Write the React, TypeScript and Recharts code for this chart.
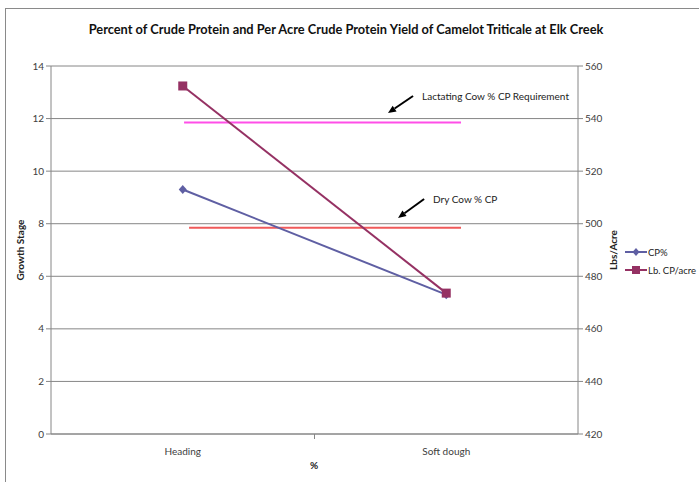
import React from 'react'
import {
  LineChart,
  Line,
  XAxis,
  YAxis,
  CartesianGrid,
  ReferenceLine,
} from 'recharts'

const categories = ['Heading', 'Soft dough']
const cpPercent = [9.3, 5.3]
const lbPerAcre = [552.4, 473.6]
const leftTicks = [0, 2, 4, 6, 8, 10, 12, 14]
const rightTicks = [420, 440, 460, 480, 500, 520, 540, 560]
const lactatingReq = 11.85
const dryReq = 7.85

const FONT = 'Lato, "Liberation Sans", sans-serif'
const AXIS = '#868686'
const CP_COLOR = '#5f5fa3'
const LB_COLOR = '#953163'

// numeric x so the category labels sit mid-band like Excel
const data = categories.map((name, i) => ({
  x: i + 0.5,
  name,
  cp: cpPercent[i],
  lb: lbPerAcre[i],
}))

function XTick(props: any) {
  const { x, y, payload } = props
  if (payload.value === 1) {
    return <line x1={x} x2={x} y1={y - 8} y2={y - 3} stroke={AXIS} />
  }
  const label = categories[Math.floor(payload.value)]
  return (
    <text x={x} y={y + 13} textAnchor="middle" fontSize={10} fill="#404040" fontFamily={FONT}>
      {label}
    </text>
  )
}

function Diamond(props: any) {
  const { cx, cy } = props
  if (cx == null || cy == null) return null
  return <path d={`M${cx},${cy - 4.5}L${cx + 4},${cy}L${cx},${cy + 4.5}L${cx - 4},${cy}Z`} fill={CP_COLOR} />
}

function Square(props: any) {
  const { cx, cy } = props
  if (cx == null || cy == null) return null
  return <rect x={cx - 4.5} y={cy - 4.5} width={9} height={9} fill={LB_COLOR} />
}

function arrowShape(text: string) {
  return (p: any) => {
    const { x1, y1, x2, y2 } = p
    const ang = Math.atan2(y2 - y1, x2 - x1)
    const len = 8
    const w = 3.5
    const bx = x2 - Math.cos(ang) * len
    const by = y2 - Math.sin(ang) * len
    const px = -Math.sin(ang) * w
    const py = Math.cos(ang) * w
    return (
      <g>
        <line x1={x1} y1={y1} x2={bx} y2={by} stroke="#000" strokeWidth={2} />
        <polygon points={`${x2},${y2} ${bx + px},${by + py} ${bx - px},${by - py}`} fill="#000" />
        <text x={x1 + 9} y={y1 + 4} fontSize={10} fill="#222" fontFamily={FONT}>
          {text}
        </text>
      </g>
    )
  }
}

function LegendBox() {
  const items = [
    { label: 'CP%', color: CP_COLOR, square: false },
    { label: 'Lb. CP/acre', color: LB_COLOR, square: true },
  ]
  return (
    <svg width={77} height={40}>
      {items.map((it, i) => {
        const y = 8 + i * 18
        return (
          <g key={it.label}>
            <line x1={3} x2={25} y1={y} y2={y} stroke={it.color} strokeWidth={2} />
            {it.square ? (
              <rect x={10} y={y - 4} width={8} height={8} fill={it.color} />
            ) : (
              <path d={`M14,${y - 4}L17.5,${y}L14,${y + 4}L10.5,${y}Z`} fill={it.color} />
            )}
            <text x={26} y={y + 3.5} fontSize={9.5} fill="#222" fontFamily={FONT}>
              {it.label}
            </text>
          </g>
        )
      })}
    </svg>
  )
}

export default function App() {
  return (
    <div style={{ position: 'absolute', left: 0, top: 0, width: 699, height: 482, overflow: 'hidden', background: '#fff' }}>
      <div style={{ position: 'absolute', left: 5, top: 8, width: 900, height: 700, border: '1px solid #8a8a8a' }} />
      <div
        style={{
          position: 'absolute',
          left: 0,
          top: 21,
          width: 692,
          textAlign: 'center',
          fontFamily: FONT,
          fontWeight: 700,
          fontSize: 12.8,
          color: '#111',
        }}
      >
        Percent of Crude Protein and Per Acre Crude Protein Yield of Camelot Triticale at Elk Creek
      </div>
      <div style={{ position: 'absolute', left: 0, top: 0 }}>
        <LineChart width={699} height={482} data={data} margin={{ top: 66, right: 81, left: 5, bottom: 18 }}>
          <CartesianGrid vertical={false} stroke={AXIS} yAxisId="left" />
          <XAxis
            dataKey="x"
            type="number"
            domain={[0, 2]}
            ticks={[0.5, 1, 1.5]}
            tick={<XTick />}
            tickLine={false}
            axisLine={{ stroke: AXIS }}
            height={30}
            label={{
              content: () => (
                <text x={314} y={469} textAnchor="middle" fontSize={10} fontWeight={700} fill="#222" fontFamily={FONT}>
                  %
                </text>
              ),
            }}
          />
          <YAxis
            yAxisId="left"
            domain={[0, 14]}
            ticks={leftTicks}
            width={46}
            tickSize={5}
            tickLine={{ stroke: AXIS }}
            axisLine={{ stroke: AXIS }}
            tick={{ fontSize: 10, fill: '#404040', fontFamily: FONT }}
            label={{
              content: () => (
                <text
                  x={24}
                  y={250}
                  transform="rotate(-90 24 250)"
                  textAnchor="middle"
                  fontSize={10}
                  fontWeight={700}
                  fill="#222"
                  fontFamily={FONT}
                >
                  Growth Stage
                </text>
              ),
            }}
          />
          <YAxis
            yAxisId="right"
            orientation="right"
            domain={[420, 560]}
            ticks={rightTicks}
            width={40}
            tickSize={5}
            tickLine={{ stroke: AXIS }}
            axisLine={{ stroke: AXIS }}
            tick={{ fontSize: 10, fill: '#404040', fontFamily: FONT }}
            label={{
              content: () => (
                <text
                  x={617}
                  y={250}
                  transform="rotate(-90 617 250)"
                  textAnchor="middle"
                  fontSize={10}
                  fontWeight={700}
                  fill="#222"
                  fontFamily={FONT}
                >
                  Lbs/Acre
                </text>
              ),
            }}
          />
          <ReferenceLine
            yAxisId="left"
            segment={[{ x: 0.505, y: lactatingReq }, { x: 1.556, y: lactatingReq }]}
            stroke="#ff4fe8"
            strokeWidth={2}
          />
          <ReferenceLine
            yAxisId="left"
            segment={[{ x: 0.524, y: dryReq }, { x: 1.556, y: dryReq }]}
            stroke="#f05a5a"
            strokeWidth={2}
          />
          <ReferenceLine
            yAxisId="left"
            segment={[{ x: 1.374, y: 12.86 }, { x: 1.279, y: 12.21 }]}
            shape={arrowShape('Lactating Cow % CP Requirement')}
          />
          <ReferenceLine
            yAxisId="left"
            segment={[{ x: 1.416, y: 8.94 }, { x: 1.317, y: 8.22 }]}
            shape={arrowShape('Dry Cow % CP')}
          />
          <Line
            yAxisId="left"
            dataKey="cp"
            name="CP%"
            stroke={CP_COLOR}
            strokeWidth={2}
            dot={<Diamond />}
            activeDot={false}
            isAnimationActive={false}
          />
          <Line
            yAxisId="right"
            dataKey="lb"
            name="Lb. CP/acre"
            stroke={LB_COLOR}
            strokeWidth={2}
            dot={<Square />}
            activeDot={false}
            isAnimationActive={false}
          />
        </LineChart>
      </div>
      <div style={{ position: 'absolute', left: 622, top: 244 }}>
        <LegendBox />
      </div>
    </div>
  )
}
